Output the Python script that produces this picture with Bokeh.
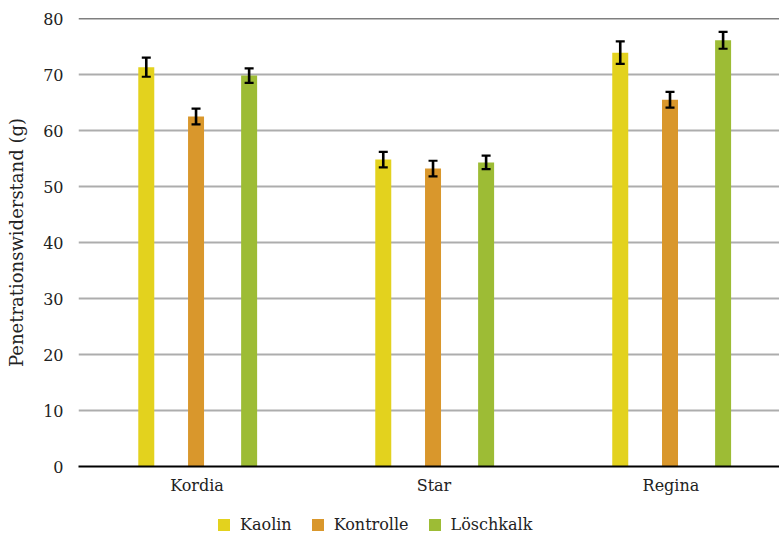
from bokeh.plotting import figure
from bokeh.layouts import column
from bokeh.models import Range1d, Span, Legend, LegendItem, ColumnDataSource, FixedTicker
from bokeh.embed import file_html
from bokeh.resources import INLINE

categories = ["Kordia", "Star", "Regina"]
series = ["Kaolin", "Kontrolle", "Löschkalk"]
kaolin = [71.3, 54.8, 73.9]
kaolin_err = [1.7, 1.4, 2.0]
kontrolle = [62.5, 53.2, 65.5]
kontrolle_err = [1.4, 1.4, 1.4]
loeschkalk = [69.8, 54.3, 76.1]
loeschkalk_err = [1.3, 1.2, 1.5]
y_ticks = [0, 10, 20, 30, 40, 50, 60, 70, 80]

colors = ["#e3d21e", "#d9972c", "#9dbc35"]
offsets = [-0.214, -0.004, 0.220]
bar_width = 0.0675
FONT = "DejaVu Serif"
TEXT = "#222222"

cat_pos = [i + 0.5 for i in range(len(categories))]

p = figure(x_range=Range1d(0, 2.958), y_range=Range1d(0, 80),
           width=779, height=500, output_backend="svg", toolbar_location=None,
           min_border_left=78, min_border_right=0, min_border_top=18, min_border_bottom=34)
p.outline_line_color = None

for name, vals, errs, col, off in zip(series, [kaolin, kontrolle, loeschkalk],
                                      [kaolin_err, kontrolle_err, loeschkalk_err], colors, offsets):
    src = ColumnDataSource(dict(x=[c + off for c in cat_pos], v=vals,
                                lo=[a - b for a, b in zip(vals, errs)],
                                hi=[a + b for a, b in zip(vals, errs)]))
    p.vbar(x="x", top="v", width=bar_width, source=src, fill_color=col, line_color=None)
    p.segment(x0="x", y0="lo", x1="x", y1="hi", source=src, line_color="black", line_width=2.6)
    p.scatter(x="x", y="lo", marker="dash", size=9, source=src, line_color="black", line_width=2.2)
    p.scatter(x="x", y="hi", marker="dash", size=9, source=src, line_color="black", line_width=2.2)

p.add_layout(Span(location=80, dimension="width", line_color="black", line_width=1.5))

p.xgrid.grid_line_color = None
p.ygrid.grid_line_color = "#adadad"
p.ygrid.grid_line_width = 2
p.yaxis.ticker = FixedTicker(ticks=y_ticks)
p.xaxis.ticker = FixedTicker(ticks=cat_pos)
p.xaxis.major_label_overrides = {c: n for c, n in zip(cat_pos, categories)}

for ax in (p.xaxis, p.yaxis):
    ax.major_tick_line_color = None
    ax.minor_tick_line_color = None
    ax.major_tick_out = 0
    ax.major_tick_in = 0
    ax.minor_tick_out = 0
    ax.major_label_text_font = FONT
    ax.major_label_text_font_size = "16px"
    ax.major_label_text_color = TEXT
p.yaxis.axis_line_color = None
p.xaxis.axis_line_color = "black"
p.xaxis.axis_line_width = 2
p.xaxis.major_label_standoff = 9
p.yaxis.major_label_standoff = 15
p.yaxis.axis_label = "Penetrationswiderstand (g)"
p.yaxis.axis_label_text_font = FONT
p.yaxis.axis_label_text_font_size = "18px"
p.yaxis.axis_label_text_font_style = "normal"
p.yaxis.axis_label_text_color = TEXT
p.yaxis.axis_label_standoff = 13

# legend strip below the chart (frames of a column are aligned, so x is from frame left)
lg = figure(x_range=Range1d(0, 1), y_range=Range1d(0, 1), width=779, height=34,
            output_backend="svg", toolbar_location=None,
            x_axis_location=None, y_axis_location=None,
            min_border_left=0, min_border_right=0, min_border_top=0, min_border_bottom=0)
lg.outline_line_color = None
lg.xgrid.visible = False
lg.ygrid.visible = False
items = []
for name, col in zip(series, colors):
    r = lg.vbar(x=[-5], top=[-5], width=0.1, fill_color=col, line_color=None)
    items.append(LegendItem(label=name, renderers=[r]))
legend = Legend(items=items, orientation="horizontal", location=(138, 0),
                glyph_width=15, glyph_height=15, label_standoff=9, spacing=18,
                label_text_font=FONT, label_text_font_size="16px", label_text_color=TEXT,
                border_line_color=None, background_fill_alpha=0, padding=0, margin=0)
lg.add_layout(legend, "center")

layout = column(p, lg, spacing=0)
open("out.html", "w").write(file_html(layout, INLINE))
